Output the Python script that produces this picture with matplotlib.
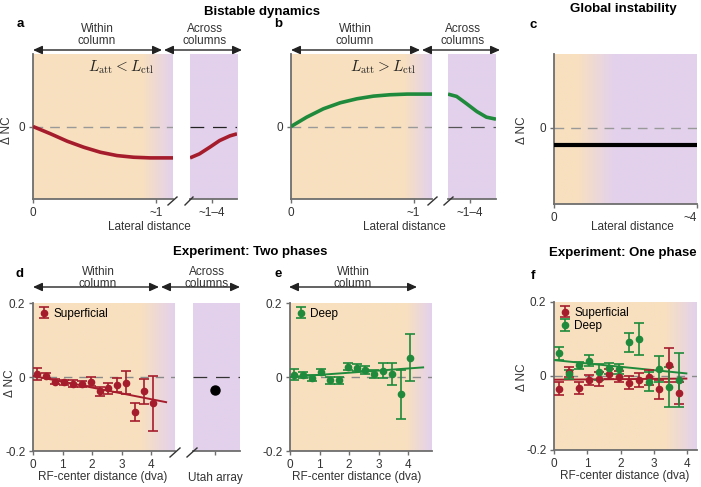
import numpy as np
import matplotlib.pyplot as plt
from matplotlib.colors import LinearSegmentedColormap
from matplotlib.patches import FancyArrowPatch
from matplotlib.lines import Line2D

plt.rcParams['font.family'] = ['Liberation Sans', 'DejaVu Sans']
plt.rcParams['mathtext.fontset'] = 'cm'

# ---- model curves ----
a_x = [0, 0.143, 0.278, 0.412, 0.547, 0.682, 0.817, 0.951, 1.137]
a_y = [0, -0.101, -0.203, -0.286, -0.355, -0.401, -0.424, -0.433, -0.433]
a_far_x = [0, 0.2, 0.42, 0.63, 0.85, 1.0]
a_far_y = [-0.433, -0.378, -0.286, -0.194, -0.129, -0.101]

b_x = [0, 0.128, 0.264, 0.401, 0.537, 0.673, 0.809, 0.946, 1.15]
b_y = [0, 0.129, 0.244, 0.327, 0.382, 0.419, 0.438, 0.447, 0.447]
b_far_x = [0, 0.18, 0.39, 0.6, 0.8, 1.0]
b_far_y = [0.447, 0.415, 0.313, 0.207, 0.129, 0.101]

c_x = [0, 4]
c_y = [-0.23, -0.23]

# ---- experiment data ----
d_x = [0.15, 0.45, 0.75, 1.05, 1.35, 1.65, 1.95, 2.25, 2.55, 2.85, 3.15, 3.45, 3.75, 4.05]
d_y = [0.008, 0.004, -0.013, -0.014, -0.018, -0.018, -0.013, -0.039, -0.030, -0.021, -0.015, -0.095, -0.039, -0.071]
d_err = [0.015, 0.006, 0.007, 0.007, 0.010, 0.008, 0.012, 0.013, 0.015, 0.019, 0.030, 0.024, 0.034, 0.074]
d_fit_x = [0, 4.5]
d_fit_y = [0.003, -0.068]
utah_y = -0.036

e_x = d_x
e_y = [0.006, 0.006, -0.003, 0.014, -0.009, -0.009, 0.028, 0.025, 0.019, 0.007, 0.017, 0.008, -0.047, 0.052]
e_err = [0.015, 0.008, 0.009, 0.008, 0.009, 0.009, 0.010, 0.009, 0.010, 0.011, 0.020, 0.030, 0.066, 0.063]
e_fit_x = [0, 4.5]
e_fit_y = [0.0, 0.026]

f_x = [0.15, 0.45, 0.75, 1.05, 1.35, 1.65, 1.95, 2.25, 2.55, 2.85, 3.15, 3.45, 3.75]
f_sup_y = [-0.034, 0.011, -0.032, -0.011, -0.008, 0.005, -0.002, -0.018, -0.011, -0.004, -0.036, 0.030, -0.045]
f_sup_err = [0.017, 0.013, 0.017, 0.014, 0.020, 0.013, 0.015, 0.018, 0.018, 0.020, 0.025, 0.045, 0.030]
f_deep_y = [0.061, 0.005, 0.029, 0.041, 0.011, 0.021, 0.019, 0.091, 0.100, -0.015, 0.019, -0.029, -0.011]
f_deep_err = [0.018, 0.012, 0.009, 0.015, 0.022, 0.015, 0.014, 0.025, 0.042, 0.026, 0.036, 0.054, 0.073]
f_fit_x = [0, 3.98]
f_sup_fit = [-0.010, -0.007]
f_deep_fit = [0.043, 0.007]

# colours
red = '#A51D2D'
green = '#1F8A3B'
spine_col = '#6e6e6e'
txt = '#333333'
bg_cmap = LinearSegmentedColormap.from_list('bg', ['#F8E0BF', '#E3D1EC'])

W, H = 701, 487
fig = plt.figure(figsize=(W / 100, H / 100), dpi=100)


def rect(l, t, r, b):
    return [l / W, 1 - b / H, (r - l) / W, (b - t) / H]


def fx(x):
    return x / W


def fy(y):
    return 1 - y / H


def shade(ax, start, stop):
    t = np.linspace(0, 1, 400)
    g = np.clip((t - start) / (stop - start), 0, 1)
    ax.imshow(g[None, :], cmap=bg_cmap, vmin=0, vmax=1, aspect='auto',
              extent=[0, 1, 0, 1], transform=ax.transAxes, zorder=0,
              interpolation='bilinear')


def style(ax, left=True):
    for s in ['top', 'right']:
        ax.spines[s].set_visible(False)
    ax.spines['left'].set_visible(left)
    for s in ['left', 'bottom']:
        ax.spines[s].set_color(spine_col)
        ax.spines[s].set_linewidth(1.3)
    ax.tick_params(colors=spine_col, labelcolor=txt, labelsize=8.5,
                   length=3, width=1, pad=2.5)
    if not left:
        ax.set_yticks([])


def arrow(x0, x1, y):
    fig.add_artist(FancyArrowPatch((fx(x0), fy(y)), (fx(x1), fy(y)),
                                   transform=fig.transFigure,
                                   arrowstyle='<|-|>,head_length=0.55,head_width=0.25',
                                   mutation_scale=10, lw=1, color='#222222',
                                   shrinkA=0, shrinkB=0))


def ftext(x, y, s, **kw):
    kw.setdefault('color', txt)
    kw.setdefault('fontsize', 8.5)
    fig.text(fx(x), fy(y), s, ha='center', va='center', **kw)


def brk(x0, y0, x1, y1):
    fig.add_artist(Line2D([fx(x0), fx(x1)], [fy(y0), fy(y1)],
                          transform=fig.transFigure, color='#333333', lw=1))


# ================= panel a =================
ax = fig.add_axes(rect(33, 54, 173, 199))
shade(ax, 0.78, 1.0)
ax.axhline(0, color='#999999', lw=1, dashes=(7, 5), zorder=1)
ax.plot(a_x, a_y, color=red, lw=2.6, zorder=3, solid_capstyle='butt')
ax.set_xlim(0, 1.137)
ax.set_ylim(-1, 1)
style(ax)
ax.set_xticks([0, 1], ['0', '~1'])
ax.set_yticks([0], ['0'])
ax.text(0.63, 0.91, r'$L_{\rm att} < L_{\rm ctl}$', transform=ax.transAxes,
        ha='center', va='center', fontsize=11, color='#222222')

ax = fig.add_axes(rect(190, 54, 237, 199))
shade(ax, -1, -0.5)
ax.axhline(0, color='#222222', lw=0.9, dashes=(11, 7), zorder=1)
ax.plot(a_far_x, a_far_y, color=red, lw=2.6, zorder=3, solid_capstyle='butt')
ax.set_xlim(0, 1)
ax.set_ylim(-1, 1)
style(ax, left=False)
ax.set_xticks([0.47], ['~1–4'])

# ================= panel b =================
ax = fig.add_axes(rect(291, 54, 432, 199))
shade(ax, 0.80, 1.0)
ax.axhline(0, color='#999999', lw=1, dashes=(7, 5), zorder=1)
ax.plot(b_x, b_y, color=green, lw=2.6, zorder=3, solid_capstyle='butt')
ax.set_xlim(0, 1.15)
ax.set_ylim(-1, 1)
style(ax)
ax.set_xticks([0, 1], ['0', '~1'])
ax.set_yticks([0], ['0'])
ax.text(0.65, 0.91, r'$L_{\rm att} > L_{\rm ctl}$', transform=ax.transAxes,
        ha='center', va='center', fontsize=11, color='#222222')

ax = fig.add_axes(rect(448, 54, 496, 199))
shade(ax, -1, -0.5)
ax.axhline(0, color='#555555', lw=0.9, dashes=(11, 7), zorder=1)
ax.plot(b_far_x, b_far_y, color=green, lw=2.6, zorder=3, solid_capstyle='butt')
ax.set_xlim(0, 1)
ax.set_ylim(-1, 1)
style(ax, left=False)
ax.set_xticks([0.45], ['~1–4'])

# ================= panel c =================
ax = fig.add_axes(rect(554, 54, 697, 204))
shade(ax, 0.16, 0.42)
ax.axhline(0, color='#999999', lw=1, dashes=(7, 5), zorder=1)
ax.plot(c_x, c_y, color='black', lw=3, zorder=3)
ax.set_xlim(0, 4)
ax.set_ylim(-1.03, 1)
style(ax)
ax.set_xticks([0, 4], ['0', '~4'])
ax.get_xticklabels()[1].set_horizontalalignment('right')
ax.set_yticks([0], ['0'])

# ================= panel d =================
eb = dict(fmt='o', ms=4.5, capsize=3.5, elinewidth=1.2, capthick=1.2, zorder=4)
leg = dict(loc='upper left', frameon=False, fontsize=8.5, handlelength=1.0,
           handletextpad=0.3, borderaxespad=0.2, borderpad=0.2, labelspacing=0.15)

ax = fig.add_axes(rect(33, 303, 175, 451))
shade(ax, 0.76, 1.0)
ax.axhline(0, color='#8a8a8a', lw=1, dashes=(6, 5), zorder=1)
ax.plot(d_fit_x, d_fit_y, color=red, lw=1.4, zorder=3)
ax.errorbar(d_x, d_y, yerr=d_err, color=red, label='Superficial', **eb)
ax.set_xlim(0, 4.8)
ax.set_ylim(-0.2, 0.2)
style(ax)
ax.set_xticks([0, 1, 2, 3, 4])
ax.set_yticks([-0.2, 0, 0.2], ['-0.2', '0', '0.2'])
ax.legend(**leg)

ax = fig.add_axes(rect(193, 303, 240, 451))
shade(ax, -1, -0.5)
ax.axhline(0, color='#333333', lw=0.9, dashes=(11, 7), zorder=1)
ax.plot([0.47], [utah_y], 'o', color='black', ms=6.5, zorder=4)
ax.set_xlim(0, 1)
ax.set_ylim(-0.2, 0.2)
style(ax, left=False)
ax.set_xticks([0.47], [''])

# ================= panel e =================
ax = fig.add_axes(rect(290, 303, 432, 451))
shade(ax, 0.82, 1.0)
ax.axhline(0, color='#8a8a8a', lw=1, dashes=(6, 5), zorder=1)
ax.plot(e_fit_x, e_fit_y, color=green, lw=1.4, zorder=3)
ax.errorbar(e_x, e_y, yerr=e_err, color=green, label='Deep', **eb)
ax.set_xlim(0, 4.8)
ax.set_ylim(-0.2, 0.2)
style(ax)
ax.set_xticks([0, 1, 2, 3, 4])
ax.set_yticks([-0.2, 0, 0.2], ['-0.2', '0', '0.2'])
ax.legend(**leg)

# ================= panel f =================
ax = fig.add_axes(rect(554, 302, 697, 450))
shade(ax, 0.78, 1.0)
ax.axhline(0, color='#8a8a8a', lw=1, dashes=(6, 5), zorder=1)
ax.plot(f_fit_x, f_sup_fit, color=red, lw=1.4, zorder=3)
ax.plot(f_fit_x, f_deep_fit, color=green, lw=1.4, zorder=3)
ax.errorbar(f_x, f_sup_y, yerr=f_sup_err, color=red, label='Superficial', **eb)
ax.errorbar(f_x, f_deep_y, yerr=f_deep_err, color=green, label='Deep', **eb)
ax.set_xlim(0, 4.3)
ax.set_ylim(-0.2, 0.2)
style(ax)
ax.set_xticks([0, 1, 2, 3, 4])
ax.set_yticks([-0.2, 0, 0.2], ['-0.2', '0', '0.2'])
ax.legend(**leg)

# ================= annotations =================
# titles and panel letters
ftext(262, 12, 'Bistable dynamics', fontsize=9.5, fontweight='bold', color='black')
ftext(623, 9, 'Global instability', fontsize=9.5, fontweight='bold', color='black')
ftext(250, 252, 'Experiment: Two phases', fontsize=9.5, fontweight='bold', color='black')
ftext(623, 253, 'Experiment: One phase', fontsize=9.5, fontweight='bold', color='black')
for s, x, y in [('a', 20, 24), ('b', 278, 24), ('c', 533, 25),
                ('d', 20, 274), ('e', 278, 274), ('f', 533, 276)]:
    ftext(x, y, s, fontsize=9.5, fontweight='bold', color='black')

# region arrows
arrow(33, 162, 50)
arrow(164, 242, 50)
ftext(97, 35, 'Within\ncolumn', linespacing=0.9)
ftext(205, 35, 'Across\ncolumns', linespacing=0.9)
arrow(291, 420, 50)
arrow(422, 500, 50)
ftext(355, 35, 'Within\ncolumn', linespacing=0.9)
ftext(463, 35, 'Across\ncolumns', linespacing=0.9)
arrow(33, 159, 287)
arrow(161, 240, 287)
ftext(98, 278, 'Within\ncolumn', linespacing=0.9)
ftext(207, 278, 'Across\ncolumns', linespacing=0.9)
arrow(289, 417, 287)
ftext(353, 278, 'Within\ncolumn', linespacing=0.9)

# axis labels
ftext(149, 227, 'Lateral distance')
ftext(404, 227, 'Lateral distance')
ftext(632, 227, 'Lateral distance')
ftext(103, 477, 'RF-center distance (dva)')
ftext(215, 478, 'Utah array')
ftext(357, 477, 'RF-center distance (dva)')
ftext(625, 476, 'RF-center distance (dva)')
ftext(7, 130, 'Δ NC', rotation=90)
ftext(522, 130, 'Δ NC', rotation=90)
ftext(10, 383, 'Δ NC', rotation=90)
ftext(522, 377, 'Δ NC', rotation=90)

# axis break marks
brk(168, 205, 177, 197)
brk(185, 205, 193, 197)
brk(428, 205, 437, 197)
brk(444, 205, 453, 197)
brk(170, 457, 180, 448)
brk(187, 457, 197, 448)

fig.savefig('out.png', dpi=100)
